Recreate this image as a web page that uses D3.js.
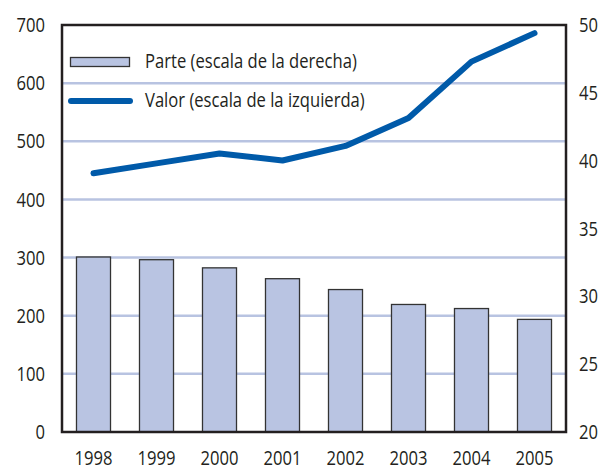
<!DOCTYPE html>
<html>
<head>
<meta charset="utf-8">
<script src="https://cdn.jsdelivr.net/npm/d3@7"></script>
<style>
  body { margin: 0; background: #fff; }
  text { font-family: "Open Sans", sans-serif; fill: #231f20; }
</style>
</head>
<body>
<div id="chart"></div>
<script>
// データ ---------------------------------------------------------------------
const years = ['1998', '1999', '2000', '2001', '2002', '2003', '2004', '2005'];
const parteValues = [32.9, 32.7, 32.1, 31.3, 30.5, 29.4, 29.1, 28.3];  // escala de la derecha
const valorValues = [445, 462, 479, 467, 492, 540, 637, 686];           // escala de la izquierda
const leftTicks = [0, 100, 200, 300, 400, 500, 600, 700];
const rightTicks = [20, 25, 30, 35, 40, 45, 50];
const legendLabels = ['Parte (escala de la derecha)', 'Valor (escala de la izquierda)'];

// SVG ------------------------------------------------------------------------
const width = 603, height = 467;
const m = {top: 25, right: 37, bottom: 35, left: 62};
const fontSize = 20.5;
const svg = d3.select('#chart').append('svg')
  .attr('width', width)
  .attr('height', height);

// 狭い書体の代わりに横方向へ縮める ------------------------------------------------
const probe = svg.append('text')
  .attr('font-size', fontSize + 'px')
  .text(legendLabels[0]);
const sx = 212 / probe.node().getComputedTextLength();
probe.remove();

const x = d3.scaleBand()
  .domain(years)
  .range([m.left, width - m.right])
  .paddingInner(0.46)
  .paddingOuter(0.23);
const yL = d3.scaleLinear().domain([0, 700]).range([height - m.bottom, m.top]);
const yR = d3.scaleLinear().domain([20, 50]).range([height - m.bottom, m.top]);

// グリッド線 -------------------------------------------------------------------
svg.append('g')
  .selectAll('line')
  .data(leftTicks.filter(d => d > 0 && d < 700))
  .enter().append('line')
  .attr('x1', m.left)
  .attr('x2', width - m.right)
  .attr('y1', d => yL(d))
  .attr('y2', d => yL(d))
  .attr('stroke', '#b8c3e1')
  .attr('stroke-width', 2.5);

// 棒 ------------------------------------------------------------------------
svg.append('g')
  .selectAll('rect')
  .data(parteValues)
  .enter().append('rect')
  .attr('x', (d, i) => x(years[i]))
  .attr('y', d => yR(d))
  .attr('width', x.bandwidth())
  .attr('height', d => yR(20) - yR(d))
  .attr('fill', '#b9c4e2')
  .attr('stroke', '#333')
  .attr('stroke-width', 1.3);

// 折れ線 ---------------------------------------------------------------------
const line = d3.line()
  .x((d, i) => x(years[i]) + x.bandwidth() / 2)
  .y(d => yL(d));
svg.append('path')
  .datum(valorValues)
  .attr('d', line)
  .attr('fill', 'none')
  .attr('stroke', '#005aa9')
  .attr('stroke-width', 6)
  .attr('stroke-linecap', 'round')
  .attr('stroke-linejoin', 'round');

// 枠 ------------------------------------------------------------------------
svg.append('rect')
  .attr('x', m.left)
  .attr('y', m.top)
  .attr('width', width - m.left - m.right)
  .attr('height', height - m.top - m.bottom)
  .attr('fill', 'none')
  .attr('stroke', '#231f20')
  .attr('stroke-width', 2.5);

// 軸 ------------------------------------------------------------------------
const axisL = svg.append('g')
  .attr('transform', 'translate(' + m.left + ',0)')
  .call(d3.axisLeft(yL).tickValues(leftTicks).tickSize(0).tickPadding(17));
const axisR = svg.append('g')
  .attr('transform', 'translate(' + (width - m.right) + ',0)')
  .call(d3.axisRight(yR).tickValues(rightTicks).tickSize(0).tickPadding(13));
const axisB = svg.append('g')
  .attr('transform', 'translate(0,' + (height - m.bottom) + ')')
  .call(d3.axisBottom(x).tickSize(0).tickPadding(18));
[axisL, axisR, axisB].forEach(a => {
  a.select('.domain').remove();
  a.selectAll('text')
    .attr('font-family', '"Open Sans", sans-serif')
    .attr('font-size', fontSize + 'px')
    .attr('fill', '#231f20')
    .attr('x', function () { return (+d3.select(this).attr('x') || 0) / sx; })
    .attr('transform', 'scale(' + sx + ',1)');
});

// 凡例 ----------------------------------------------------------------------
const legend = svg.append('g');
legend.append('rect')
  .attr('x', 70.5)
  .attr('y', 57.5)
  .attr('width', 59)
  .attr('height', 9)
  .attr('fill', '#b9c4e2')
  .attr('stroke', '#333')
  .attr('stroke-width', 1.3);
legend.append('line')
  .attr('x1', 71)
  .attr('x2', 130)
  .attr('y1', 101)
  .attr('y2', 101)
  .attr('stroke', '#005aa9')
  .attr('stroke-width', 6)
  .attr('stroke-linecap', 'round');
legend.selectAll('text')
  .data(legendLabels)
  .enter().append('text')
  .attr('transform', (d, i) => 'translate(145,' + (i === 0 ? 61 : 100) + ') scale(' + sx + ',1)')
  .attr('dy', '0.36em')
  .attr('font-size', fontSize + 'px')
  .text(d => d);
</script>
</body>
</html>
